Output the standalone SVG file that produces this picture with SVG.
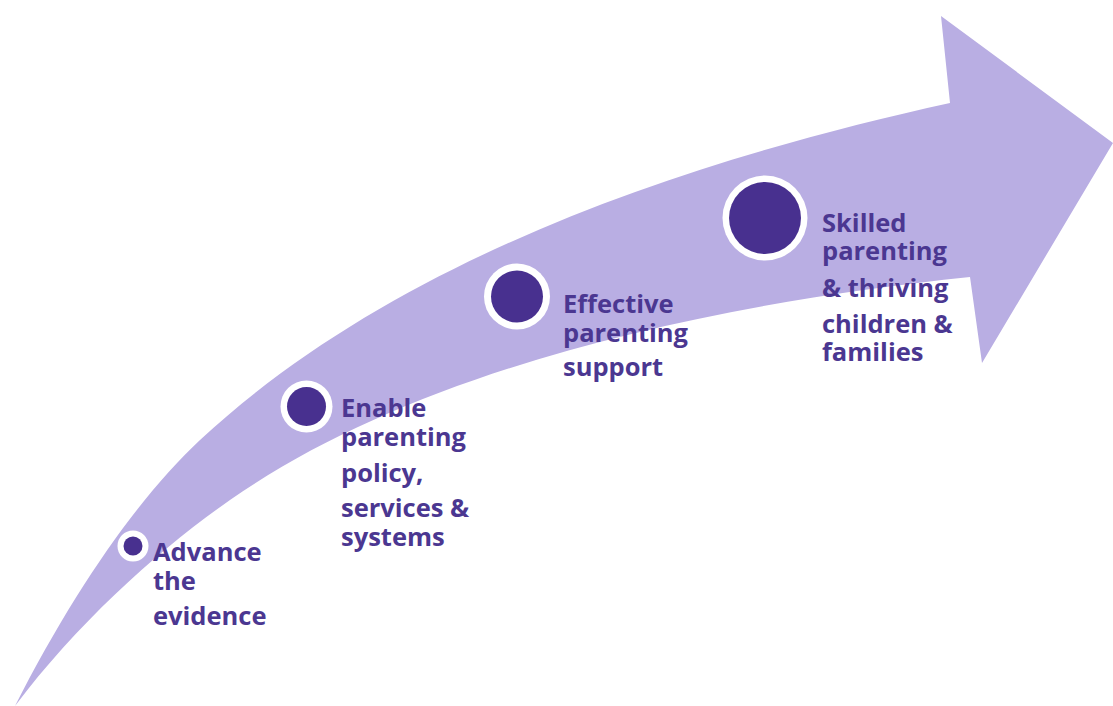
<svg xmlns="http://www.w3.org/2000/svg" width="1113" height="706" viewBox="0 0 1113 706">
  <style>
    .band { fill: #b9aee3; }
    .ring { fill: #ffffff; }
    .dot { fill: #48308f; }
    .lbl { font-family: "Open Sans", "Liberation Sans", sans-serif; font-weight: 700; font-size: 25.5px; fill: #4b3791; }
  </style>
  <rect width="1113" height="706" fill="#ffffff"/>
  <g id="connectors">
    <path id="arrow" class="band" d="M 15,706 C 80,620 160,549 230,500 C 410,374 690,306 970,277 L 982,363 L 1113,143 L 941,16 L 950,103 C 700,158 400,254 200,440 C 140,496 75,588 15,706 Z"/>
  </g>
  <g id="node-advance">
    <circle class="ring" cx="133" cy="546" r="15.5"/>
    <circle class="dot" cx="133" cy="546" r="9.5"/>
    <text class="lbl"><tspan x="153" y="561">Advance</tspan><tspan x="153" y="590">the</tspan><tspan x="153" y="625">evidence</tspan></text>
  </g>
  <g id="node-enable">
    <circle class="ring" cx="306.5" cy="406.5" r="26"/>
    <circle class="dot" cx="306.5" cy="406.5" r="19.5"/>
    <text class="lbl"><tspan x="341" y="417">Enable</tspan><tspan x="341" y="446">parenting</tspan><tspan x="341" y="482">policy,</tspan><tspan x="341" y="517">services &amp;</tspan><tspan x="341" y="546">systems</tspan></text>
  </g>
  <g id="node-effective">
    <circle class="ring" cx="517" cy="296.5" r="33"/>
    <circle class="dot" cx="517" cy="296.5" r="26"/>
    <text class="lbl"><tspan x="563" y="313">Effective</tspan><tspan x="563" y="342">parenting</tspan><tspan x="563" y="376">support</tspan></text>
  </g>
  <g id="node-skilled">
    <circle class="ring" cx="765" cy="218" r="42.5"/>
    <circle class="dot" cx="765" cy="218" r="36"/>
    <text class="lbl"><tspan x="822" y="232">Skilled</tspan><tspan x="822" y="260">parenting</tspan><tspan x="822" y="297">&amp; thriving</tspan><tspan x="822" y="333">children &amp;</tspan><tspan x="822" y="361">families</tspan></text>
  </g>
</svg>
